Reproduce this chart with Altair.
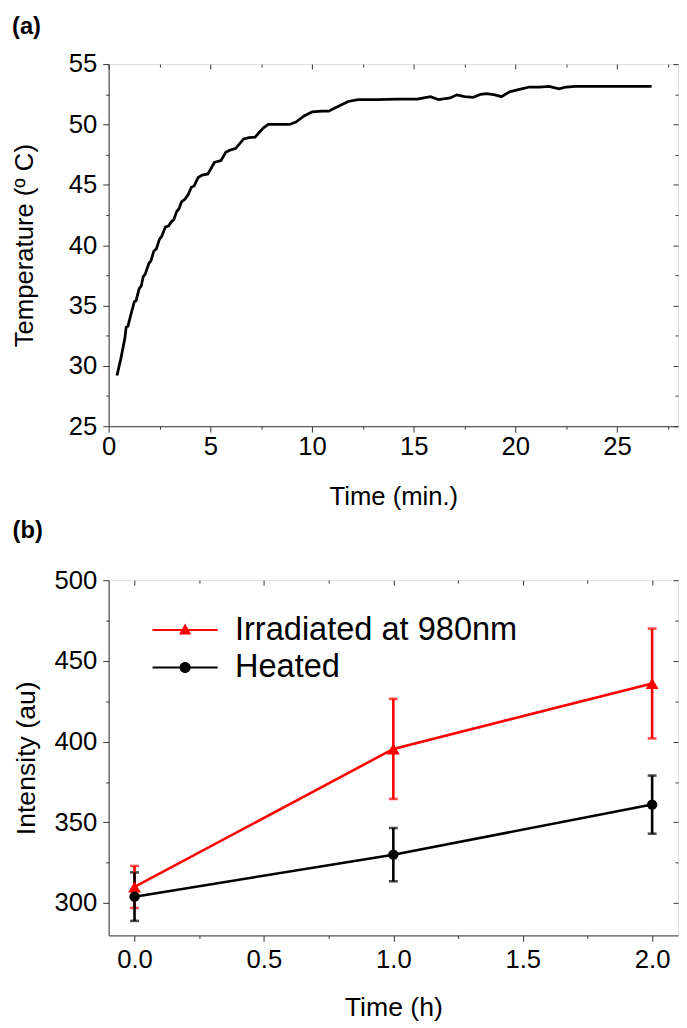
import altair as alt
import pandas as pd

# ---------------- data: panel (a) ----------------
time_min = [0.41, 0.6, 0.8, 0.86, 0.95, 1.1, 1.26, 1.35, 1.5, 1.6, 1.7, 1.8, 1.98, 2.08,
            2.22, 2.35, 2.5, 2.6, 2.79, 2.95, 3.11, 3.2, 3.35, 3.45, 3.59, 3.75, 3.91,
            4.07, 4.2, 4.4, 4.6, 4.88, 5.2, 5.52, 5.76, 6.0, 6.24, 6.64, 6.9, 7.2, 7.6,
            7.85, 8.5, 8.89, 9.21, 9.61, 10.01, 10.5, 10.82, 11.3, 11.78, 12.26, 13.2,
            14.2, 15.18, 15.5, 15.83, 16.23, 16.8, 17.12, 17.5, 17.93, 18.3, 18.58, 19.0,
            19.31, 19.72, 20.2, 20.69, 21.2, 21.66, 22.15, 22.5, 22.96, 24.0, 25.0, 26.0, 26.7]
temp_c = [29.2, 30.6, 32.3, 33.2, 33.3, 34.3, 35.3, 35.4, 36.4, 36.6, 37.4, 37.6, 38.5, 38.7,
          39.5, 39.7, 40.5, 40.7, 41.5, 41.6, 42.0, 42.1, 42.8, 43.0, 43.6, 43.8, 44.2,
          44.8, 44.9, 45.6, 45.8, 45.9, 46.85, 47.0, 47.7, 47.9, 48.0, 48.8, 48.9, 48.95, 49.7,
          50.0, 50.0, 50.0, 50.2, 50.7, 51.05, 51.1, 51.1, 51.5, 51.9, 52.05, 52.05,
          52.1, 52.1, 52.2, 52.3, 52.05, 52.2, 52.45, 52.3, 52.25, 52.5, 52.55, 52.45,
          52.3, 52.7, 52.9, 53.1, 53.1, 53.15, 52.95, 53.1, 53.15, 53.15, 53.15, 53.15, 53.15]

# ---------------- data: panel (b) ----------------
hours = [0.0, 1.0, 2.0]
series_names = ["Irradiated at 980nm", "Heated"]
irr_mean = [310, 395.5, 436]
irr_err = [13, 31, 34]
heat_mean = [304, 330, 361]
heat_err = [15, 16.5, 18]
colors = ["#ff0000", "#000000"]

FONT = "Liberation Sans"
AX = "#333333"

df_a = pd.DataFrame({"t": time_min, "T": temp_c})

rows = []
for name, means, errs in [(series_names[0], irr_mean, irr_err), (series_names[1], heat_mean, heat_err)]:
    for h, m, e in zip(hours, means, errs):
        rows.append({"h": h, "mean": m, "lo": m - e, "hi": m + e, "series": name})
df_b = pd.DataFrame(rows)


def tick_size(test, minor, major):
    return {"condition": {"test": test, "value": minor}, "value": major}


def base_axis(**kw):
    d = dict(grid=False, domainColor=AX, tickColor=AX, tickWidth=1, domainWidth=1,
             labelFont=FONT, titleFont=FONT, labelColor="black", titleColor="black",
             titleFontWeight="normal", labelFlush=False, labelOverlap=False)
    d.update(kw)
    return alt.Axis(**d)


# ---------------- panel (a) ----------------
W_A, H_A = 577, 367
xa_vals = [i * 2.5 for i in range(12)]
ya_vals = [25 + i * 2.5 for i in range(13)]
xa_test = "datum.value % 5 !== 0"
ya_test = "datum.value % 5 !== 0"

xa_scale = alt.Scale(domain=[0, 28], nice=False, zero=False)
ya_scale = alt.Scale(domain=[25, 55], nice=False, zero=False)

xa_axis = base_axis(values=xa_vals, labelExpr="datum.value % 5 === 0 ? datum.label : ''",
                    tickSize=tick_size(xa_test, 3, 6), title="Time (min.)",
                    labelFontSize=26, titleFontSize=26, labelPadding=2, titlePadding=24)
ya_axis = base_axis(values=ya_vals, labelExpr="datum.value % 5 === 0 ? datum.label : ''",
                    tickSize=tick_size(ya_test, 3, 6), title="Temperature (º C)",
                    labelFontSize=26, titleFontSize=26, labelPadding=6, titlePadding=31)
xa_mirror = base_axis(values=xa_vals, labels=False, domain=False, orient="bottom",
                      offset=-H_A, tickSize=tick_size(xa_test, 3, 5), title=None)
ya_mirror = base_axis(values=ya_vals, labels=False, domain=False, orient="left",
                      offset=-W_A, tickSize=tick_size(ya_test, 3, 5), title=None)

curve = alt.Chart(df_a).mark_line(color="black", strokeWidth=2.8).encode(
    x=alt.X("t:Q", scale=xa_scale, axis=xa_axis),
    y=alt.Y("T:Q", scale=ya_scale, axis=ya_axis),
)
mirror_a = alt.Chart(df_a).mark_line(opacity=0).encode(
    x=alt.X("t:Q", scale=xa_scale, axis=xa_mirror),
    y=alt.Y("T:Q", scale=ya_scale, axis=ya_mirror),
)
panel_a = alt.layer(curve, mirror_a).resolve_axis(x="independent", y="independent").properties(
    width=W_A, height=H_A,
    title=alt.TitleParams("(a)", anchor="start", frame="bounds", font=FONT, fontSize=24,
                          fontWeight="bold", color="black", offset=12),
)

# ---------------- panel (b) ----------------
W_B, H_B = 577, 360
xb_vals = [i * 0.25 for i in range(9)]
yb_vals = [300 + i * 25 for i in range(9)]
xb_test = "abs(datum.value * 2 - round(datum.value * 2)) > 0.001"
yb_test = "datum.value % 50 !== 0"

xb_scale = alt.Scale(domain=[-0.1, 2.1], nice=False, zero=False)
yb_scale = alt.Scale(domain=[280, 500], nice=False, zero=False)

xb_axis = base_axis(values=xb_vals,
                    labelExpr="abs(datum.value * 2 - round(datum.value * 2)) < 0.001 ? format(datum.value, '.1f') : ''",
                    tickSize=tick_size(xb_test, 3, 6), title="Time (h)",
                    labelFontSize=26, titleFontSize=27, labelPadding=6, titlePadding=22)
yb_axis = base_axis(values=yb_vals, labelExpr="datum.value % 50 === 0 ? datum.label : ''",
                    tickSize=tick_size(yb_test, 3, 6), title="Intensity (au)",
                    labelFontSize=26, titleFontSize=27, labelPadding=6, titlePadding=14)
xb_mirror = base_axis(values=xb_vals, labels=False, domain=False, orient="bottom",
                      offset=-H_B, tickSize=tick_size(xb_test, 3, 5), title=None)
yb_mirror = base_axis(values=yb_vals, labels=False, domain=False, orient="left",
                      offset=-W_B, tickSize=tick_size(yb_test, 3, 5), title=None)

color_scale = alt.Scale(domain=series_names, range=colors)

# legend symbols: a short filled bar (the line) with the marker on it
tri_path = "M-3.3,-0.1H3.3V0.1H-3.3ZM0,-0.65L0.62,0.45L-0.62,0.45Z"
circ_path = ("M-3.3,-0.1H3.3V0.1H-3.3Z"
             "M0.56,0A0.56,0.56 0 1,1 -0.56,0A0.56,0.56 0 1,1 0.56,0Z")
leg = alt.Legend(orient="none", legendX=61, legendY=34, title=None, padding=0,
                 symbolSize=400, symbolStrokeWidth=0, labelOffset=34, labelFont=FONT,
                 labelFontSize=33, labelColor="black", rowPadding=4, labelLimit=0,
                 symbolOpacity=1)

xb = alt.X("h:Q", scale=xb_scale, axis=xb_axis)
yb = alt.Y("mean:Q", scale=yb_scale, axis=yb_axis)
col_b = alt.Color("series:N", scale=color_scale, legend=leg)

base_b = alt.Chart(df_b)
legend_b = base_b.transform_filter("false").mark_point(filled=True, opacity=1).encode(
    x=xb, y=yb,
    color=col_b,
    shape=alt.Shape("series:N", scale=alt.Scale(domain=series_names, range=[tri_path, circ_path]),
                    legend=leg),
)
lines_b = base_b.mark_line(strokeWidth=2.6).encode(x=xb, y=yb, color=col_b)
err_b = base_b.mark_errorbar(ticks=True, size=9, thickness=2.6).encode(
    x=xb,
    y=alt.Y("lo:Q", scale=yb_scale, axis=yb_axis),
    y2="hi:Q",
    color=col_b,
)
tri_b = base_b.transform_filter(alt.datum.series == series_names[0]).mark_point(
    filled=True, opacity=1, size=170, shape="triangle-up").encode(x=xb, y=yb, color=col_b)
circ_b = base_b.transform_filter(alt.datum.series == series_names[1]).mark_point(
    filled=True, opacity=1, size=110, shape="circle").encode(x=xb, y=yb, color=col_b)

mirror_b = base_b.mark_point(opacity=0).encode(
    x=alt.X("h:Q", scale=xb_scale, axis=xb_mirror),
    y=alt.Y("mean:Q", scale=yb_scale, axis=yb_mirror),
)

main_b = alt.layer(legend_b, lines_b, err_b, tri_b, circ_b)
panel_b = alt.layer(main_b, mirror_b).resolve_axis(x="independent", y="independent").properties(
    width=W_B, height=H_B,
    title=alt.TitleParams("(b)", anchor="start", frame="bounds", font=FONT, fontSize=24,
                          fontWeight="bold", color="black", offset=25),
)

chart = alt.vconcat(panel_a, panel_b, spacing=8).resolve_scale(
    color="independent", shape="independent"
).resolve_legend(color="independent", shape="independent").properties(
    padding={"left": 3, "top": 0, "right": 0, "bottom": 0}
).configure_view(stroke=AX, strokeWidth=1).configure(background="white")

chart.save("out.html", embed_options={"renderer": "svg", "actions": False})
